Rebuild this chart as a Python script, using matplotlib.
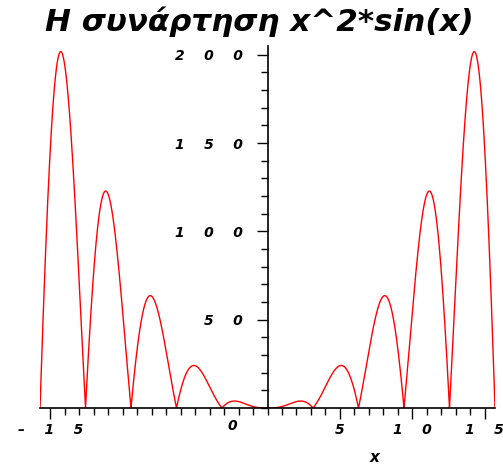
import matplotlib
matplotlib.use("Agg")
import matplotlib.pyplot as plt
import numpy as np
from matplotlib.ticker import MultipleLocator

# function plot: |x^2 * sin(x)| on [-5*pi, 5*pi]
x_min, x_max = -5 * np.pi, 5 * np.pi
x = np.linspace(x_min, x_max, 2000)
y = np.abs(x ** 2 * np.sin(x))

x_ticks = [-15, 5, 10, 15]
x_labels = ["\u2013    1    5", "5", "1    0", "1    5"]
y_ticks = [50, 100, 150, 200]
y_labels = ["5    0", "1    0    0", "1    5    0", "2    0    0"]

fig = plt.figure(figsize=(5.03, 4.66), dpi=100)
ax = fig.add_axes([40 / 503, 58 / 466, 455 / 503, 362 / 466])

ax.plot(x, y, color="red", linewidth=1.0)

ax.set_xlim(x_min, x_max)
ax.set_ylim(0, 205)

# axes cross at the origin
ax.spines["left"].set_position(("data", 0))
ax.spines["bottom"].set_position(("data", 0))
ax.spines["right"].set_visible(False)
ax.spines["top"].set_visible(False)
ax.spines["left"].set_linewidth(1.2)
ax.spines["bottom"].set_linewidth(1.2)

ax.set_xticks(x_ticks)
ax.set_xticklabels(x_labels, fontsize=10, style="italic", fontweight="bold")
ax.set_yticks(y_ticks)
ax.set_yticklabels(y_labels, fontsize=10, style="italic", fontweight="bold")
ax.xaxis.set_minor_locator(MultipleLocator(1))
ax.yaxis.set_minor_locator(MultipleLocator(10))
ax.tick_params(axis="both", which="major", length=8, width=1, direction="out")
ax.tick_params(axis="x", which="major", pad=3)
ax.tick_params(axis="y", which="major", pad=10)
ax.tick_params(axis="both", which="minor", length=5, width=1, direction="out")

ax.text(-2.4, -10, "0", fontsize=10, style="italic", fontweight="bold",
        ha="center", va="center")
fig.text(375 / 503, 1 - 457 / 466, "x", fontsize=11, style="italic",
         fontweight="bold", ha="center", va="center")

fig.text(259 / 503, 1 - 22 / 466, "Η συνάρτηση x^2*sin(x)", fontsize=22.3,
         style="italic", fontweight="bold", ha="center", va="center")

fig.savefig("out.png", dpi=100)
